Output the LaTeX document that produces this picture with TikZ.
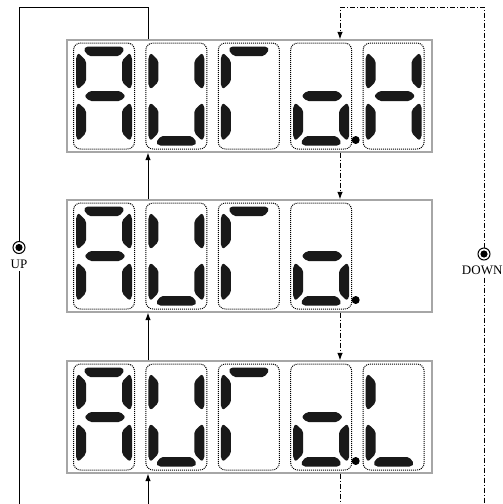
\documentclass[tikz,border=0pt]{standalone}
\usepackage{fontspec}
\setmainfont{Liberation Serif}
\usetikzlibrary{positioning,arrows.meta}

\tikzset{
  panel/.style={draw=gray!70, line width=1.2pt, minimum width=365pt, minimum height=112pt, inner sep=0pt},
  dbox/.style={line width=1pt, dash pattern=on 1pt off 1pt, rounded corners=7pt},
  seg/.style={fill=black!90, rounded corners=2pt},
  ring/.style={circle, draw, line width=1pt, minimum size=12pt, inner sep=0pt,
    path picture={\fill[black] (path picture bounding box.center) circle (3.6pt);}},
  lbl/.style={font=\fontsize{13}{15}\selectfont, inner sep=2.5pt},
  upline/.style={line width=1pt, -{Latex[length=7.5pt,width=5.5pt]}},
  dnline/.style={line width=1pt, dash pattern=on 5pt off 2pt on 1pt off 2pt}
}

\newcommand\sga{\fill[seg] (-18,-49.5) -- (18,-49.5) -- (20.5,-46.5) -- (15.5,-40) -- (-15.5,-40) -- (-20.5,-46.5) -- cycle;}
\newcommand\sgd{\fill[seg] (-18,49.5) -- (18,49.5) -- (20.5,46.5) -- (15.5,40) -- (-15.5,40) -- (-20.5,46.5) -- cycle;}
\newcommand\sgg{\fill[seg] (-19.5,0) -- (-14.5,-5) -- (16.5,-5) -- (21.5,0) -- (16.5,5) -- (-14.5,5) -- cycle;}
\newcommand\sgf{\fill[seg] (-28,-39) -- (-25.5,-43) -- (-18,-35.5) -- (-18,-14) -- (-25.5,-7) -- (-28,-10) -- cycle;}
\newcommand\sge{\fill[seg] (-28,10) -- (-25.5,7) -- (-18,14) -- (-18,37) -- (-25.5,44.5) -- (-28,41.5) -- cycle;}
\newcommand\sgb{\fill[seg] (28,-39) -- (25.5,-43) -- (18,-35.5) -- (18,-14) -- (25.5,-7) -- (28,-10) -- cycle;}
\newcommand\sgc{\fill[seg] (28,10) -- (25.5,7) -- (18,14) -- (18,37) -- (25.5,44.5) -- (28,41.5) -- cycle;}
\newcommand\sgp{\fill (34.5,44) circle (4pt);}

\newcommand\segdigit[3]{%
  \begin{scope}[shift={(#1,#2)}]
    \draw[dbox] (-30.5,-53) rectangle (30.5,53);
    \foreach \s in {#3}{\csname sg\s\endcsname}
  \end{scope}}

\begin{document}
\begin{tikzpicture}[x=1pt, y=-1pt]
\useasboundingbox (0,0) rectangle (503,504);

\node[panel] (ptop) at (249.5,96) {};
\node[panel] (pmid) at (249.5,256) {};
\node[panel] (pbot) at (249.5,417) {};

\segdigit{104}{96}{a,b,c,e,f,g}
\segdigit{176.4}{96}{b,c,d,e,f}
\segdigit{248.8}{96}{a,e,f}
\segdigit{321.2}{96}{c,d,e,g,p}
\segdigit{393.6}{96}{b,c,e,f,g}

\segdigit{104}{256}{a,b,c,e,f,g}
\segdigit{176.4}{256}{b,c,d,e,f}
\segdigit{248.8}{256}{a,e,f}
\segdigit{321.2}{256}{c,d,e,g,p}

\segdigit{104}{417}{a,b,c,e,f,g}
\segdigit{176.4}{417}{b,c,d,e,f}
\segdigit{248.8}{417}{a,e,f}
\segdigit{321.2}{417}{c,d,e,g,p}
\segdigit{393.6}{417}{d,e,f}

\node[ring] (up) at (19,247.5) {};
\node[lbl, below=3pt of up] (uplbl) {UP};
\node[ring] (down) at (484,254) {};
\node[lbl, below=3pt of down, xshift=-1.8pt] (dnlbl) {DOWN};

\coordinate (lx) at (148,0);
\coordinate (rx) at (340,0);
\coordinate (tl) at (19,7);
\coordinate (tr) at (484,7);
\coordinate (bl) at (19,504);
\coordinate (br) at (484,504);
\coordinate (bx) at (148,504);
\coordinate (by) at (340,504);

\draw[upline] (bx) -- (pbot.south -| lx);
\draw[upline] (pbot.north -| lx) -- (pmid.south -| lx);
\draw[upline] (pmid.north -| lx) -- (ptop.south -| lx);
\draw[line width=1pt] (ptop.north -| lx) |- (tl) -- (up);
\draw[line width=1pt] (uplbl) -- (bl);

\draw[dnline, -{Latex[length=7.5pt,width=5.5pt]}] (down) -- (tr) -| (ptop.north -| rx);
\draw[dnline, -{Latex[length=7.5pt,width=5.5pt]}] (ptop.south -| rx) -- (pmid.north -| rx);
\draw[dnline, -{Latex[length=7.5pt,width=5.5pt]}] (pmid.south -| rx) -- (pbot.north -| rx);
\draw[dnline] (pbot.south -| rx) -- (by);
\draw[dnline] (dnlbl.south -| down) -- (br);
\end{tikzpicture}
\end{document}
